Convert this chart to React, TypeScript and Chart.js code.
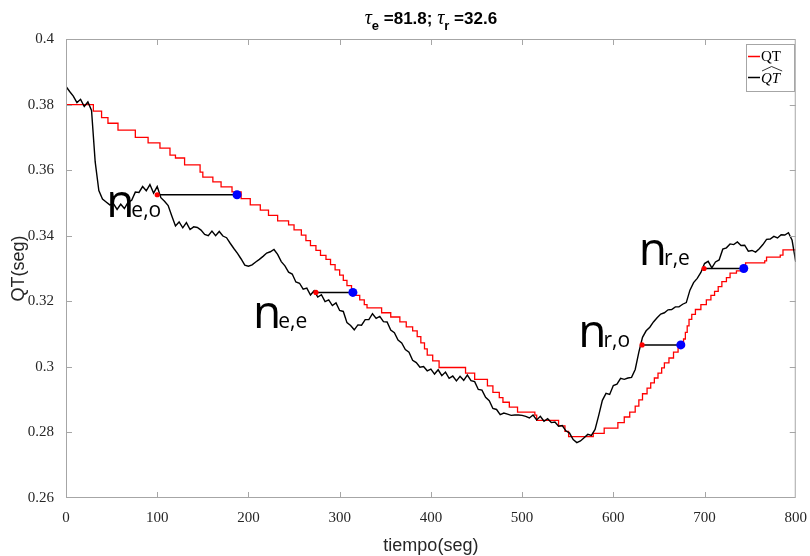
import React, { useEffect, useRef } from "react";
import { Chart, registerables } from "chart.js";

Chart.register(...registerables);

// ---- data ----
// reference QT (staircase): step start time (s) and value (s)
const qtTimes = [
  0, 30, 39, 46, 57, 76, 90, 103, 114, 120, 130, 147, 150, 161, 170, 182, 192, 202, 213, 222,
  232, 244, 250, 258, 263, 268, 274, 279, 285, 290, 295, 300, 304, 308, 313, 317, 322, 327, 330, 346,
  356, 366, 373, 380, 385, 389, 393, 396, 402, 409, 438, 448, 462, 468, 475, 479, 486, 495, 514, 516,
  540, 547, 551, 578, 590, 605, 612, 618, 624, 628, 632, 637, 641, 645, 649, 653, 656, 661, 666, 671,
  674, 677, 679, 681, 683, 686, 690, 696, 702, 707, 711, 715, 719, 724, 728, 735, 740, 745, 766, 768,
  783, 786, 800,
];
const qtValues = [
  0.38, 0.378, 0.376, 0.3743, 0.3722, 0.37, 0.3683, 0.3667, 0.3646, 0.3637, 0.3616, 0.3594, 0.3579, 0.3564, 0.3549, 0.3534, 0.3513, 0.3494, 0.3478, 0.3462,
  0.3445, 0.3433, 0.3418, 0.3402, 0.3385, 0.337, 0.3355, 0.334, 0.3328, 0.3312, 0.3296, 0.328, 0.3264, 0.3248, 0.3233, 0.3218, 0.3204, 0.319, 0.318, 0.3165,
  0.3152, 0.3137, 0.3122, 0.311, 0.3092, 0.3073, 0.3055, 0.3036, 0.3018, 0.2998, 0.2981, 0.2962, 0.2942, 0.2922, 0.2906, 0.2892, 0.2877, 0.2862, 0.2853, 0.2837,
  0.282, 0.2803, 0.2787, 0.2797, 0.2813, 0.283, 0.2847, 0.2862, 0.288, 0.2899, 0.2918, 0.2935, 0.2951, 0.2966, 0.2981, 0.2997, 0.3012, 0.3027, 0.3045, 0.3058,
  0.3067, 0.3085, 0.3105, 0.3125, 0.3145, 0.316, 0.3175, 0.319, 0.3204, 0.3218, 0.323, 0.3245, 0.326, 0.3272, 0.3286, 0.3293, 0.33, 0.3317, 0.3323, 0.3335,
  0.3341, 0.3357, 0.3357,
];

// estimated QT (noisy): sample time (s) and value (s)
const hatTimes = [
  0, 4, 8, 12, 16, 20, 24, 28, 32, 36, 40, 44, 48, 52, 56, 60, 64, 68, 72, 76,
  80, 84, 88, 92, 96, 100, 104, 108, 112, 116, 120, 124, 128, 132, 136, 140, 144, 148, 152, 156,
  160, 164, 168, 172, 176, 180, 184, 188, 192, 196, 200, 204, 208, 212, 216, 220, 224, 228, 232, 236,
  240, 244, 248, 252, 256, 260, 264, 268, 272, 276, 280, 284, 288, 292, 296, 300, 304, 308, 312, 316,
  320, 324, 328, 332, 336, 340, 344, 348, 352, 356, 360, 364, 368, 372, 376, 380, 384, 388, 392, 396,
  400, 404, 408, 412, 416, 420, 424, 428, 432, 436, 440, 444, 448, 452, 456, 460, 464, 468, 472, 476,
  480, 484, 488, 492, 496, 500, 504, 508, 512, 516, 520, 524, 528, 532, 536, 540, 544, 548, 552, 556,
  560, 564, 568, 572, 576, 580, 584, 588, 592, 596, 600, 604, 608, 612, 616, 620, 624, 628, 632, 636,
  640, 644, 648, 652, 656, 660, 664, 668, 672, 676, 680, 684, 688, 692, 696, 700, 704, 708, 712, 716,
  720, 724, 728, 732, 736, 740, 744, 748, 752, 756, 760, 764, 768, 772, 776, 780, 784, 788, 792, 796,
  800,
];
const hatValues = [
  0.3855, 0.384, 0.3826, 0.3806, 0.3816, 0.3794, 0.3808, 0.3782, 0.3625, 0.3538,
  0.3512, 0.3503, 0.3494, 0.3498, 0.348, 0.3496, 0.3483, 0.3502, 0.3508, 0.3533,
  0.3532, 0.355, 0.3537, 0.3556, 0.353, 0.355, 0.3516, 0.3505, 0.3492, 0.346,
  0.343, 0.3442, 0.3424, 0.344, 0.3419, 0.3427, 0.3425, 0.3417, 0.3404, 0.34,
  0.3414, 0.34, 0.3413, 0.3399, 0.3394, 0.3377, 0.3361, 0.3346, 0.3329, 0.331,
  0.3307, 0.3311, 0.332, 0.3328, 0.3337, 0.3347, 0.3351, 0.3358, 0.3343, 0.3321,
  0.3308, 0.3289, 0.3283, 0.3259, 0.3255, 0.3237, 0.324, 0.3219, 0.3232, 0.3213,
  0.322, 0.3199, 0.3204, 0.3187, 0.3195, 0.3172, 0.3169, 0.3135, 0.3126, 0.3113,
  0.3128, 0.3127, 0.3144, 0.3144, 0.3162, 0.3148, 0.3154, 0.3138, 0.3137, 0.3112,
  0.3104, 0.3082, 0.3073, 0.3053, 0.3045, 0.302, 0.3013, 0.2999, 0.3001, 0.2988,
  0.2993, 0.2978, 0.2991, 0.2973, 0.2984, 0.2965, 0.2972, 0.2957, 0.2971, 0.2959,
  0.2975, 0.2958, 0.2955, 0.2931, 0.2929, 0.2907, 0.2897, 0.2873, 0.287, 0.2854,
  0.2859, 0.2856, 0.2852, 0.2853, 0.2853, 0.2852, 0.2849, 0.2844, 0.2853, 0.2838,
  0.2849, 0.2834, 0.2842, 0.283, 0.2832, 0.2819, 0.2821, 0.2805, 0.2798, 0.2778,
  0.2769, 0.2774, 0.2784, 0.2794, 0.2791, 0.2809, 0.2852, 0.2898, 0.2919, 0.2916,
  0.2943, 0.2947, 0.2965, 0.2962, 0.2966, 0.2968, 0.2992, 0.3045, 0.309, 0.311,
  0.3121, 0.3137, 0.315, 0.3161, 0.3165, 0.3174, 0.3175, 0.3183, 0.3183, 0.3191,
  0.3196, 0.3234, 0.3257, 0.327, 0.3288, 0.3315, 0.3322, 0.3302, 0.332, 0.3326,
  0.3359, 0.3363, 0.3375, 0.3373, 0.3381, 0.337, 0.3371, 0.3353, 0.3355, 0.335,
  0.336, 0.3373, 0.3389, 0.339, 0.3398, 0.3393, 0.3403, 0.3402, 0.3409, 0.3386,
  0.332,
];

// delay segments (horizontal): start on QT-hat (red dot), end on QT (blue dot)
const segStartX = [100, 274, 631.5, 699.5];
const segEndX = [187.5, 314.5, 674, 743];
const segY = [0.3525, 0.3227, 0.3067, 0.33];

// annotations n_{..}
const annSubs = ["e,o", "e,e", "r,o", "r,e"];
const annX = [44, 205, 561.5, 628];
const annY = [0.3457, 0.3119, 0.3061, 0.3311];

const xTicks = [0, 100, 200, 300, 400, 500, 600, 700, 800];
const yTicks = [0.26, 0.28, 0.3, 0.32, 0.34, 0.36, 0.38, 0.4];

const SERIF = '"Liberation Serif", "DejaVu Serif", serif';
const SANS = '"Liberation Sans", Arial, sans-serif';
const AXIS_GRAY = "#a6a6a6";

const overlay = {
  id: "overlay",
  afterDraw(chart: any) {
    const { ctx, chartArea: a, scales } = chart;
    const x = scales.x;
    const y = scales.y;
    ctx.save();
    // box
    ctx.strokeStyle = AXIS_GRAY;
    ctx.lineWidth = 1;
    ctx.strokeRect(a.left + 0.5, a.top + 0.5, a.right - a.left - 1, a.bottom - a.top - 1);
    // inner ticks
    ctx.beginPath();
    xTicks.slice(1, -1).forEach((v) => {
      const px = Math.round(x.getPixelForValue(v)) + 0.5;
      ctx.moveTo(px, a.bottom);
      ctx.lineTo(px, a.bottom - 6);
      ctx.moveTo(px, a.top);
      ctx.lineTo(px, a.top + 6);
    });
    yTicks.slice(1, -1).forEach((v) => {
      const py = Math.round(y.getPixelForValue(v)) + 0.5;
      ctx.moveTo(a.left, py);
      ctx.lineTo(a.left + 6, py);
      ctx.moveTo(a.right, py);
      ctx.lineTo(a.right - 6, py);
    });
    ctx.stroke();

    // axis titles
    ctx.fillStyle = "#262626";
    ctx.font = `18px ${SANS}`;
    ctx.textAlign = "center";
    ctx.textBaseline = "alphabetic";
    ctx.fillText("tiempo(seg)", (a.left + a.right) / 2, 551);
    ctx.save();
    ctx.translate(24, (a.top + a.bottom) / 2);
    ctx.rotate(-Math.PI / 2);
    ctx.fillText("QT(seg)", 0, 0);
    ctx.restore();

    // title with subscripts
    const parts = [
      { t: "\u03c4", f: `italic 20px ${SERIF}`, dy: 0 },
      { t: "e", f: `bold 13px ${SANS}`, dy: 6 },
      { t: " =81.8; ", f: `bold 17px ${SANS}`, dy: 0 },
      { t: "\u03c4", f: `italic 20px ${SERIF}`, dy: 0 },
      { t: "r", f: `bold 13px ${SANS}`, dy: 6 },
      { t: " =32.6", f: `bold 17px ${SANS}`, dy: 0 },
    ];
    ctx.fillStyle = "#000";
    ctx.textAlign = "left";
    let total = 0;
    parts.forEach((p) => {
      ctx.font = p.f;
      total += ctx.measureText(p.t).width;
    });
    let cx = (a.left + a.right) / 2 - total / 2;
    parts.forEach((p) => {
      ctx.font = p.f;
      ctx.fillText(p.t, cx, 24 + p.dy);
      cx += ctx.measureText(p.t).width;
    });

    // n annotations
    annSubs.forEach((s, i) => {
      const px = x.getPixelForValue(annX[i]);
      const py = y.getPixelForValue(annY[i]);
      ctx.font = `46px "Open Sans", ${SANS}`;
      ctx.fillText("n", px, py);
      const w = ctx.measureText("n").width;
      ctx.font = `21px "Open Sans", ${SANS}`;
      ctx.fillText(s, px + w - 3, py);
    });

    // legend
    const lx = 746, ly = 44, lw = 48, lh = 47;
    ctx.fillStyle = "#fff";
    ctx.fillRect(lx, ly, lw, lh);
    ctx.strokeStyle = AXIS_GRAY;
    ctx.lineWidth = 1;
    ctx.strokeRect(lx + 0.5, ly + 0.5, lw, lh);
    ctx.lineWidth = 1.5;
    ctx.strokeStyle = "#ff0000";
    ctx.beginPath();
    ctx.moveTo(lx + 2, 56.5);
    ctx.lineTo(lx + 14, 56.5);
    ctx.stroke();
    ctx.strokeStyle = "#000";
    ctx.beginPath();
    ctx.moveTo(lx + 2, 77.5);
    ctx.lineTo(lx + 14, 77.5);
    ctx.stroke();
    ctx.fillStyle = "#000";
    ctx.font = `15px ${SERIF}`;
    ctx.fillText("QT", lx + 15, 61);
    ctx.font = `italic 15px ${SERIF}`;
    ctx.fillText("QT", lx + 15, 83);
    const hw = ctx.measureText("QT").width;
    ctx.lineWidth = 0.8;
    ctx.beginPath();
    ctx.moveTo(lx + 16, 71);
    ctx.lineTo(lx + 16 + hw / 2, 66.5);
    ctx.lineTo(lx + 17 + hw, 71);
    ctx.stroke();
    ctx.restore();
  },
};

export default function App() {
  const ref = useRef<HTMLCanvasElement | null>(null);
  useEffect(() => {
    if (!ref.current) return;
    const qtData = qtTimes.map((t, i) => ({ x: t, y: qtValues[i] }));
    const hatData = hatTimes.map((t, i) => ({ x: t, y: hatValues[i] }));
    const segSets = segY.map((v, i) => ({
      label: "seg" + i,
      data: [
        { x: segStartX[i], y: v },
        { x: segEndX[i], y: v },
      ],
      borderColor: "#000",
      borderWidth: 1.5,
      pointRadius: 0,
      fill: false,
    }));
    const chart = new Chart(ref.current, {
      type: "line",
      data: {
        datasets: [
          {
            label: "blue",
            data: segY.map((v, i) => ({ x: segEndX[i], y: v })),
            showLine: false,
            pointRadius: 4.5,
            pointBackgroundColor: "#0000ff",
            pointBorderColor: "#0000ff",
            pointBorderWidth: 0,
          },
          {
            label: "red",
            data: segY.map((v, i) => ({ x: segStartX[i], y: v })),
            showLine: false,
            pointRadius: 2.6,
            pointBackgroundColor: "#ff0000",
            pointBorderColor: "#ff0000",
            pointBorderWidth: 0,
          },
          ...segSets,
          {
            label: "QThat",
            data: hatData,
            borderColor: "#000",
            borderWidth: 1.4,
            pointRadius: 0,
            fill: false,
          },
          {
            label: "QT",
            data: qtData,
            borderColor: "#ff0000",
            borderWidth: 1.3,
            pointRadius: 0,
            stepped: "before",
            fill: false,
          },
        ],
      } as any,
      options: {
        responsive: false,
        animation: false,
        devicePixelRatio: 1,
        layout: { padding: { top: 39, right: 14, left: 0, bottom: 0 } },
        plugins: { legend: { display: false }, tooltip: { enabled: false }, title: { display: false } },
        events: [],
        scales: {
          x: {
            type: "linear",
            min: 0,
            max: 800,
            grid: { display: false },
            border: { display: false },
            afterFit: (s: any) => {
              s.height = 58;
            },
            afterBuildTicks: (s: any) => {
              s.ticks = xTicks.map((v) => ({ value: v }));
            },
            ticks: {
              font: { family: SERIF, size: 15 },
              color: "#262626",
              padding: 3,
              maxRotation: 0,
              autoSkip: false,
              callback: (v: any) => String(v),
            },
          },
          y: {
            type: "linear",
            min: 0.26,
            max: 0.4,
            grid: { display: false },
            border: { display: false },
            afterFit: (s: any) => {
              s.width = 66;
            },
            afterBuildTicks: (s: any) => {
              s.ticks = yTicks.map((v) => ({ value: v }));
            },
            ticks: {
              font: { family: SERIF, size: 15 },
              color: "#262626",
              padding: 4,
              autoSkip: false,
              callback: (v: any) => String(+Number(v).toFixed(2)),
            },
          },
        },
      } as any,
      plugins: [overlay],
    });
    return () => chart.destroy();
  }, []);
  return (
    <div style={{ position: "absolute", left: 0, top: 0, width: 810, height: 556, background: "#fff" }}>
      <canvas ref={ref} width={810} height={556} style={{ width: 810, height: 556, display: "block" }} />
    </div>
  );
}
